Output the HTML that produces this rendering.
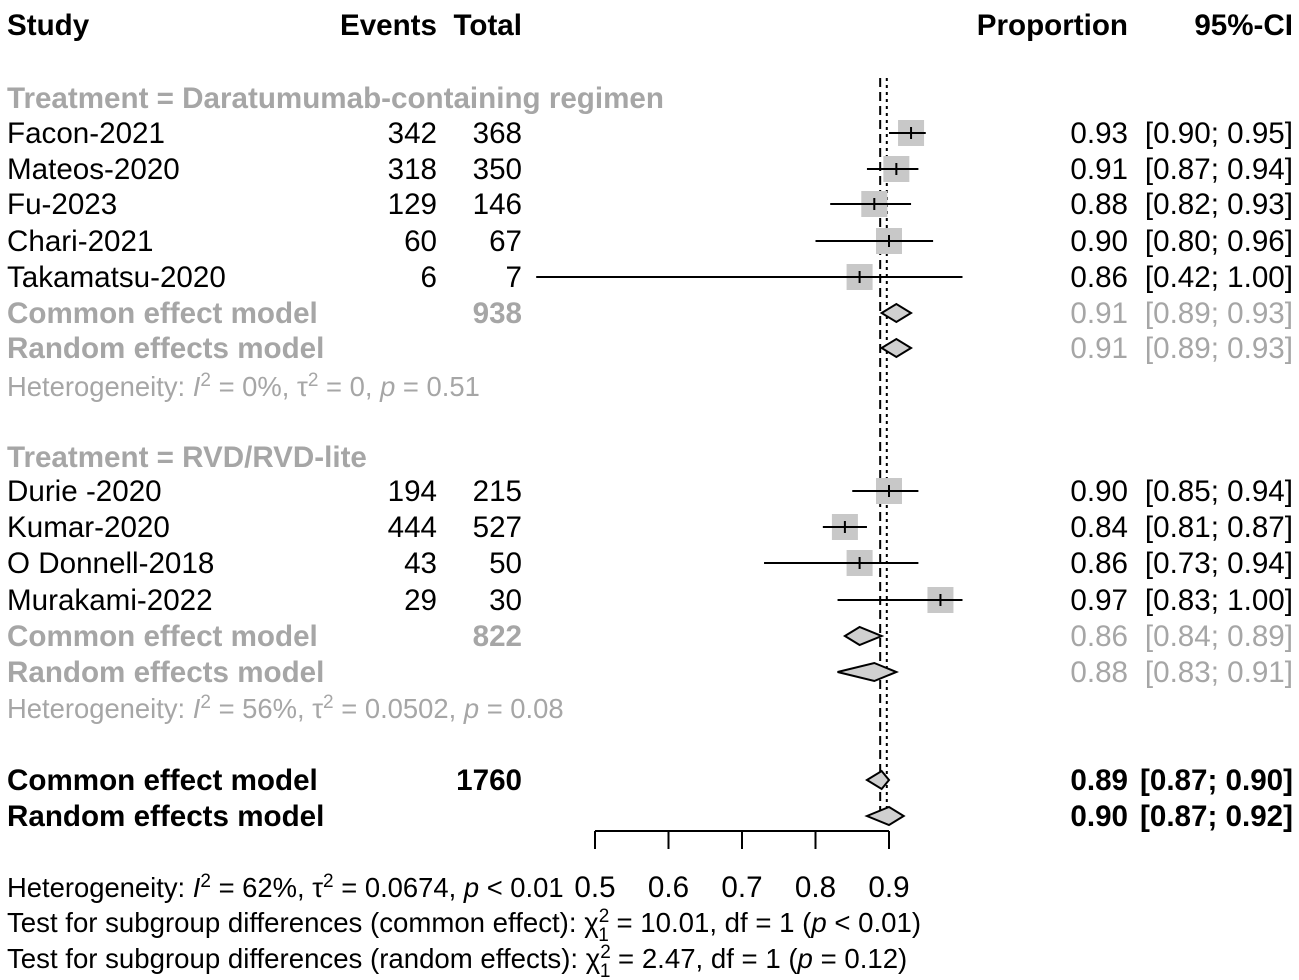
<!DOCTYPE html>
<html><head><meta charset="utf-8"><style>
html,body{margin:0;padding:0;background:#fff;}
svg{display:block;font-family:"Liberation Sans",Arial,sans-serif;}
</style></head><body>
<svg id="plot" width="1299" height="980" viewBox="0 0 1299 980" xmlns="http://www.w3.org/2000/svg"></svg>
<script>
const studyNames=["Facon-2021","Mateos-2020","Fu-2023","Chari-2021","Takamatsu-2020","Durie -2020","Kumar-2020","O Donnell-2018","Murakami-2022"];
const studyEvents=[342,318,129,60,6,194,444,43,29];
const studyTotals=[368,350,146,67,7,215,527,50,30];
const studyProps=[0.93,0.91,0.88,0.90,0.86,0.90,0.84,0.86,0.97];
const studyLo=[0.90,0.87,0.82,0.80,0.42,0.85,0.81,0.73,0.83];
const studyHi=[0.95,0.94,0.93,0.96,1.00,0.94,0.87,0.94,1.00];
const studyRows=[133,169,204,241,277,491,527,563,600];
const pooledNames=["Common effect model","Random effects model","Common effect model","Random effects model","Common effect model","Random effects model"];
const pooledTotals=["938","","822","","1760",""];
const pooledEst=[0.91,0.91,0.86,0.88,0.89,0.90];
const pooledLo=[0.89,0.89,0.84,0.83,0.87,0.87];
const pooledHi=[0.93,0.93,0.89,0.91,0.90,0.92];
const pooledRows=[313,348,636,672,780,816];
const pooledBold=[false,false,false,false,true,true];
const axisTicks=[0.5,0.6,0.7,0.8,0.9];
const refCommon=0.888, refRandom=0.897;

const svg=document.getElementById('plot');
const NS='http://www.w3.org/2000/svg';
const X=v=>595+(v-0.5)*735;
const GRAY='#a6a6a6';
const FS=29.6;
function el(tag,attrs,parent){const e=document.createElementNS(NS,tag);for(const k in attrs)e.setAttribute(k,attrs[k]);(parent||svg).appendChild(e);return e;}
function txt(s,x,y,opt){opt=opt||{};const t=el('text',{x:x,y:y+10,'font-size':opt.size||FS,'fill':opt.fill||'#000','text-anchor':opt.anchor||'start','font-weight':opt.bold?'bold':'normal'});t.innerHTML=s;return t;}

let t;
t=txt('Study',7,25,{bold:true});
t=txt('Events',437,25,{bold:true,anchor:'end'});
t=txt('Total',522,25,{bold:true,anchor:'end'});
t=txt('Proportion',1128,25,{bold:true,anchor:'end'});
t=txt('95%-CI',1293,25,{bold:true,anchor:'end'});

t=txt('Treatment = Daratumumab-containing regimen',7,98,{bold:true,fill:GRAY});
t=txt('Treatment = RVD/RVD-lite',7,457,{bold:true,fill:GRAY});

let l=el('line',{x1:X(refCommon),x2:X(refCommon),y1:78,y2:822,stroke:'#000','stroke-width':2,'stroke-dasharray':'9,5'});

l=el('line',{x1:X(refRandom),x2:X(refRandom),y1:78,y2:822,stroke:'#000','stroke-width':2,'stroke-dasharray':'3,4'});


const fmt=v=>v.toFixed(2);
studyNames.forEach((n,i)=>{
  const y=studyRows[i];
  const g=el('g',{});
  
  
  const sq=el('rect',{x:X(studyProps[i])-13,y:y-13,width:26,height:26,fill:'#c8c8c8'},g);
  
  const ci=el('line',{x1:X(studyLo[i]),x2:X(studyHi[i]),y1:y,y2:y,stroke:'#000','stroke-width':2},g);
  
  el('line',{x1:X(studyProps[i]),x2:X(studyProps[i]),y1:y-6,y2:y+6,stroke:'#000','stroke-width':2},g);
  g.appendChild(txt(n,7,y));
  g.appendChild(txt(studyEvents[i],437,y,{anchor:'end'}));
  g.appendChild(txt(studyTotals[i],522,y,{anchor:'end'}));
  g.appendChild(txt(fmt(studyProps[i]),1128,y,{anchor:'end'}));
  g.appendChild(txt('['+fmt(studyLo[i])+'; '+fmt(studyHi[i])+']',1293,y,{anchor:'end'}));
});

pooledNames.forEach((n,i)=>{
  const y=pooledRows[i];const bold=pooledBold[i];const col=bold?'#000':GRAY;
  const g=el('g',{});
  
  
  const dm=el('polygon',{points:`${X(pooledLo[i])},${y} ${X(pooledEst[i])},${y-9} ${X(pooledHi[i])},${y} ${X(pooledEst[i])},${y+9}`,fill:'#d0d0d0',stroke:'#000','stroke-width':2},g);
  
  g.appendChild(txt(n,7,y,{bold:true,fill:col}));
  if(pooledTotals[i])g.appendChild(txt(pooledTotals[i],522,y,{bold:true,fill:col,anchor:'end'}));
  g.appendChild(txt(fmt(pooledEst[i]),1128,y,{bold:bold,fill:col,anchor:'end'}));
  g.appendChild(txt('['+fmt(pooledLo[i])+'; '+fmt(pooledHi[i])+']',1293,y,{bold:bold,fill:col,anchor:'end'}));
});

t=txt('Heterogeneity: <tspan font-style="italic">I</tspan><tspan dy="-10" font-size="19">2</tspan><tspan dy="10"> = 0%, τ</tspan><tspan dy="-10" font-size="19">2</tspan><tspan dy="10"> = 0, </tspan><tspan font-style="italic">p</tspan> = 0.51',7,386,{size:27.4,fill:GRAY});

t=txt('Heterogeneity: <tspan font-style="italic">I</tspan><tspan dy="-10" font-size="19">2</tspan><tspan dy="10"> = 56%, τ</tspan><tspan dy="-10" font-size="19">2</tspan><tspan dy="10"> = 0.0502, </tspan><tspan font-style="italic">p</tspan> = 0.08',7,708,{size:27.4,fill:GRAY});

t=txt('Heterogeneity: <tspan font-style="italic">I</tspan><tspan dy="-10" font-size="19">2</tspan><tspan dy="10"> = 62%, τ</tspan><tspan dy="-10" font-size="19">2</tspan><tspan dy="10"> = 0.0674, </tspan><tspan font-style="italic">p</tspan> &lt; 0.01',7,887,{size:27.4});

t=txt('Test for subgroup differences (common effect): χ<tspan dy="-10" font-size="19">2</tspan><tspan dx="-11" dy="19" font-size="19">1</tspan><tspan dy="-9"> = 10.01, df = 1 (</tspan><tspan font-style="italic">p</tspan> &lt; 0.01)',7,922,{size:27.6});

t=txt('Test for subgroup differences (random effects): χ<tspan dy="-10" font-size="19">2</tspan><tspan dx="-11" dy="19" font-size="19">1</tspan><tspan dy="-9"> = 2.47, df = 1 (</tspan><tspan font-style="italic">p</tspan> = 0.12)',7,958,{size:27.6});


const ax=el('g',{});

el('line',{x1:X(axisTicks[0]),x2:X(axisTicks[axisTicks.length-1]),y1:831,y2:831,stroke:'#000','stroke-width':2},ax);
axisTicks.forEach(v=>{
  el('line',{x1:X(v),x2:X(v),y1:831,y2:849,stroke:'#000','stroke-width':2},ax);
  const tl=txt(v.toFixed(1),X(v),887,{anchor:'middle'});ax.appendChild(tl);
  
  
});
</script>
</body></html>
